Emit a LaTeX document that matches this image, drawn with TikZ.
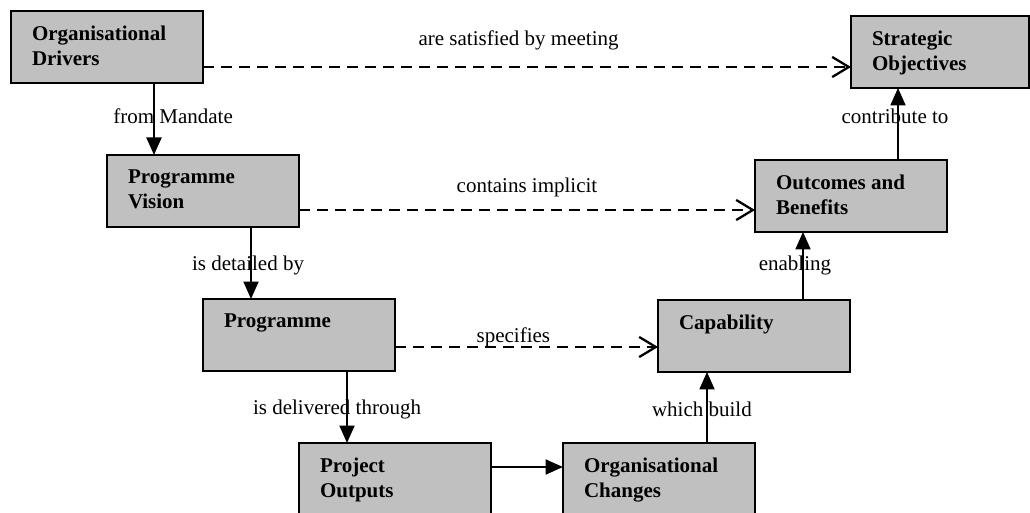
\documentclass[tikz,border=0pt]{standalone}
\usepackage{fontspec}
\setmainfont{Liberation Serif}
\usepackage{xcolor}
\usetikzlibrary{arrows.meta}
\definecolor{boxgray}{HTML}{C0C0C0}
\newcommand{\boxtext}[2][85.7pt]{\parbox[c][41.1pt][t]{#1}{\raggedright\vspace*{8.6pt}#2}}
\begin{document}
\begin{tikzpicture}[x=0.5714pt,y=-0.5714pt]
	\tikzstyle{box}=[draw=black,line width=1.4pt,fill=boxgray,anchor=north west,inner sep=0pt,outer sep=0pt,minimum width=109.7pt,minimum height=41.1pt,font=\fontsize{12}{14.3}\selectfont\bfseries]
	\tikzstyle{lbl}=[inner sep=0pt,font=\fontsize{12}{14.3}\selectfont]
	\tikzstyle{flow}=[line width=1.3pt,-{Triangle[length=10pt,width=8.5pt]}]
	\tikzstyle{link}=[line width=1.3pt,dash pattern=on 6.3pt off 4pt,-{Straight Barb[length=9.5pt,width=11.5pt]}]
	\useasboundingbox (0,0) rectangle (1030,513);
	\clip (0,0) rectangle (1030,513);
	\node[box](od) at (11,11){\boxtext{Organisational\\Drivers}};
	\node[box,minimum width=101.7pt](so) at (851,16){\boxtext[77.7pt]{Strategic\\Objectives}};
	\node[box](pv) at (107,155){\boxtext{Programme\\Vision}};
	\node[box](ob) at (755,160){\boxtext{Outcomes and\\Benefits}};
	\node[box](prog) at (203,299){\boxtext{Programme}};
	\node[box](cap) at (658,300){\boxtext{Capability}};
	\node[box](po) at (299,443){\boxtext{Project\\Outputs}};
	\node[box](oc) at (563,443){\boxtext{Organisational\\Changes}};
	\path[flow]
		(od.south -| 154,0) edge node[lbl,pos=.46,xshift=10.9pt]{from Mandate} (pv.north -| 154,0)
		(pv.south -| 251,0) edge node[lbl,pos=.53,xshift=-1.7pt]{is detailed by} (prog.north -| 251,0)
		(prog.south -| 347,0) edge node[lbl,pos=.53,xshift=-5.7pt]{is delivered through} (po.north -| 347,0)
		(po.east |- 0,467) edge (oc.west |- 0,467)
		(oc.north -| 707,0) edge node[lbl,pos=.47,xshift=-2.9pt]{which build} (cap.south -| 707,0)
		(cap.north -| 803,0) edge node[lbl,pos=.51,xshift=-4.6pt]{enabling} (ob.south -| 803,0)
		(ob.north -| 898,0) edge node[lbl,pos=.61,xshift=-1.7pt]{contribute to} (so.south -| 898,0);
	\path[link]
		(od.east |- 0,67) edge node[lbl,pos=.487,yshift=15.4pt]{are satisfied by meeting} (so.west |- 0,67)
		(pv.east |- 0,210) edge node[lbl,pos=.5,yshift=13.1pt]{contains implicit} (ob.west |- 0,210)
		(prog.east |- 0,347) edge node[lbl,pos=.45,yshift=5.7pt]{specifies} (cap.west |- 0,347);
\end{tikzpicture}
\end{document}
